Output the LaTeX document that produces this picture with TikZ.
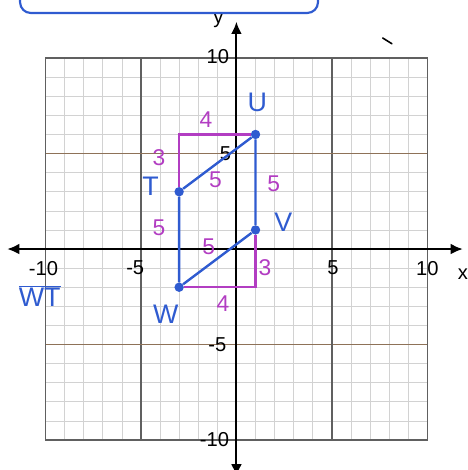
\documentclass[tikz,border=0pt]{standalone}
\usepackage{fontspec}
\setmainfont{Liberation Sans}
\usetikzlibrary{arrows.meta}
\definecolor{pen}{HTML}{2F5BD0}
\definecolor{leg}{HTML}{B23DC2}
\definecolor{minor}{HTML}{D2D2D2}
\definecolor{major}{HTML}{606060}
\definecolor{hmajor}{HTML}{8E7258}

\begin{document}
\begin{tikzpicture}[x=0.5cm,y=0.5cm,
  tick/.style={font=\fontsize{15}{18}\selectfont,inner sep=1pt},
  vlabel/.style={text=pen,font=\fontsize{20}{22}\selectfont},
  len/.style={text=leg,font=\fontsize{17}{19}\selectfont},
  pt/.style={circle,fill=pen,inner sep=0pt,minimum size=7pt}]
\useasboundingbox (-12.38,-11.57) rectangle (12.12,13.04);
% grid
\draw[minor,line width=0.5pt] (-10,-10) grid[step=1] (10,10);
\foreach \k in {-5,0,5} {
  \draw[major,line width=0.9pt] (\k,-10) -- (\k,10);
  \draw[hmajor,line width=0.9pt] (-10,\k) -- (10,\k);
}
\draw[major,line width=0.9pt] (-10,-10) rectangle (10,10);
% axes
\draw[line width=1.4pt,{Latex[length=9pt,width=8pt]}-{Latex[length=9pt,width=8pt]}] (-12,0) -- (11.85,0);
\draw[line width=1.4pt,{Latex[length=9pt,width=8pt]}-{Latex[length=9pt,width=8pt]}] (0,-11.9) -- (0,11.9);
\node[tick] (xl) at (11.86,-1.3) {x};
\node[tick] (yl) at (-0.95,12.0) {y};
\node[tick] (xm10) at (-10.1,-1) {-10};
\node[tick] (xm5) at (-5.3,-1) {-5};
\node[tick] (xp5) at (5.05,-1) {5};
\node[tick] (xp10) at (10,-1) {10};
\node[tick,anchor=east] (yp10) at (-0.3,10.1) {10};
\node[tick,anchor=east] (yp5) at (-0.2,5) {5};
\node[tick,anchor=east] (ym5) at (-0.45,-5) {-5};
\node[tick,anchor=east] (ym10) at (-0.3,-10) {-10};
% right triangles
\coordinate (cTU) at (-3,6);
\coordinate (cWV) at (1,-2);
\node[pt] (T) at (-3,3) {};
\node[pt] (U) at (1,6) {};
\node[pt] (V) at (1,1) {};
\node[pt] (W) at (-3,-2) {};
\draw[leg,line width=1.6pt] (T) -- (cTU) -- (U);
\draw[leg,line width=1.6pt] (W) -- (cWV) -- (V);
% rhombus
\draw[pen,line width=1.8pt] (T) -- (U) -- (V) -- (W) -- (T);
% labels
\node[vlabel] (lT) at (-4.5,3.3) {T};
\node[vlabel] (lU) at (1.1,7.7) {U};
\node[vlabel] (lV) at (2.45,1.4) {V};
\node[vlabel] (lW) at (-3.7,-3.4) {W};
\node[len] (a4) at (-1.6,6.8) {4};
\node[len] (a3) at (-4.05,4.8) {3};
\node[len] (a5) at (-1.1,3.65) {5};
\node[len] (b5) at (1.95,3.4) {5};
\node[len] (c5) at (-4.05,1.1) {5};
\node[len] (d5) at (-1.45,0.1) {5};
\node[len] (d3) at (1.5,-0.95) {3};
\node[len] (d4) at (-0.7,-2.85) {4};
\node[text=pen,font=\fontsize{20}{22}\selectfont] (seg) at (-10.3,-2.45) {$\overline{\mbox{WT}}$};
% top box and stray mark
\draw[pen,line width=1.6pt,rounded corners=8pt] (-11.33,12.36) rectangle (4.27,14.5);
\draw[line width=1.2pt,line cap=round] (7.66,11.05) -- (8.14,10.75);
\end{tikzpicture}
\end{document}
